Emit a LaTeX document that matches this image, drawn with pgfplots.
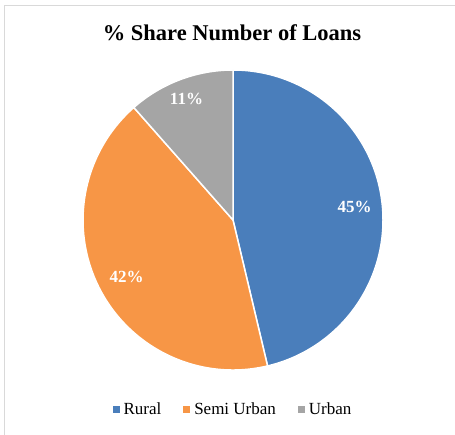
\documentclass[border=0pt]{standalone}
\usepackage{fontspec}
\setmainfont{Liberation Serif}
\usepackage{pgfplots}
\pgfplotsset{compat=1.18}
\definecolor{rural}{HTML}{4A7EBB}
\definecolor{semi}{HTML}{F79646}
\definecolor{urban}{HTML}{A5A5A5}
\definecolor{frame}{HTML}{D9D9D9}
\begin{document}
\begin{tikzpicture}[x=1pt,y=1pt]
\useasboundingbox (0,0) rectangle (455,435);
\draw[frame, line width=1pt] (4.5,0) -- (4.5,429.5) -- (455,429.5);
\node[font=\fontsize{22.5}{26}\selectfont\bfseries] at (232,402) {\% Share Number of Loans};
% shares (percent of the pie)
\def\vR{46.3}\def\vS{42.2}\def\vU{11.5}
\begin{axis}[
  at={(233pt,215pt)}, anchor=center,
  scale only axis, width=300pt, height=300pt,
  xmin=-1, xmax=1, ymin=-1, ymax=1,
  hide axis, clip=false,
  legend columns=3,
  legend style={at={(0.5,-0.13)}, anchor=center, draw=none, fill=none,
    font=\fontsize{17}{20}\selectfont,
    /tikz/every even column/.append style={column sep=20pt}},
  legend image code/.code={\fill[#1] (0pt,-3pt) rectangle (6pt,3pt); \path (8.5pt,0pt);},
]
\addlegendimage{rural}\addlegendentry{Rural}
\addlegendimage{semi}\addlegendentry{Semi Urban}
\addlegendimage{urban}\addlegendentry{Urban}
\pgfmathsetmacro{\aA}{90}
\pgfmathsetmacro{\aB}{90-\vR*3.6}
\pgfmathsetmacro{\aC}{\aB-\vS*3.6}
\pgfmathsetmacro{\aD}{\aC-\vU*3.6}
\fill[rural, draw=white, line width=1.5pt, line join=round] (axis cs:0,0) -- ++(\aA:150pt) arc[start angle=\aA, end angle=\aB, radius=150pt] -- cycle;
\fill[semi, draw=white, line width=1.5pt, line join=round] (axis cs:0,0) -- ++(\aB:150pt) arc[start angle=\aB, end angle=\aC, radius=150pt] -- cycle;
\fill[urban, draw=white, line width=1.5pt, line join=round] (axis cs:0,0) -- ++(\aC:150pt) arc[start angle=\aC, end angle=\aD, radius=150pt] -- cycle;
\node[white, font=\fontsize{17}{20}\selectfont\bfseries] at (axis cs:0.81,0.087) {45\%};
\node[white, font=\fontsize{17}{20}\selectfont\bfseries] at (axis cs:-0.71,-0.38) {42\%};
\node[white, font=\fontsize{17}{20}\selectfont\bfseries] at (axis cs:-0.31,0.81) {11\%};
\end{axis}
\end{tikzpicture}
\end{document}
